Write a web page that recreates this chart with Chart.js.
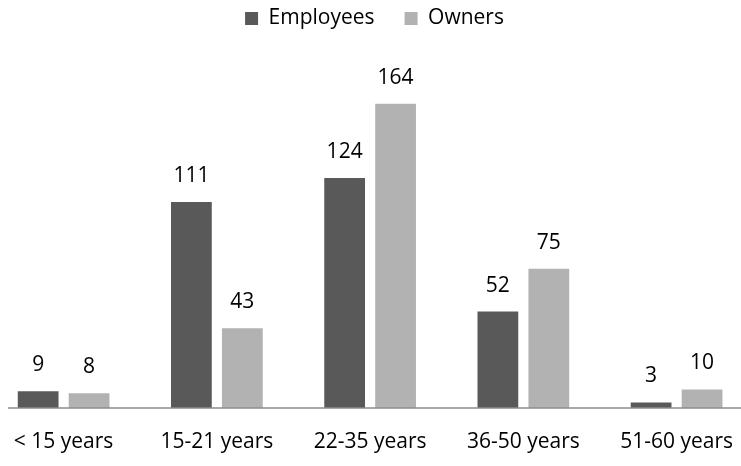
<!DOCTYPE html>
<html><head><meta charset="utf-8">
<script src="https://cdn.jsdelivr.net/npm/chart.js@4/dist/chart.umd.min.js"></script>
<style>
html,body{margin:0;padding:0;background:#fff;overflow:hidden;width:741px;height:466px;}
#wrap{position:absolute;left:-13px;top:0;width:767px;height:466px;}
</style></head>
<body><div id="wrap"><canvas id="c"></canvas></div>
<script>
const categories = ["< 15 years","15-21 years","22-35 years","36-50 years","51-60 years"];
const employees = [9,111,124,52,3];
const owners = [8,43,164,75,10];
const seriesNames = ["Employees","Owners"];

const FONT = "'Open Sans', sans-serif";
const FS = 21;
const valueLabels = {
  id:'valueLabels',
  afterDatasetsDraw(chart){
    const ctx = chart.ctx;
    ctx.save();
    ctx.font = FS + "px " + FONT;
    ctx.fillStyle = "#000";
    ctx.textAlign = "center";
    ctx.textBaseline = "alphabetic";
    chart.data.datasets.forEach((ds,i)=>{
      chart.getDatasetMeta(i).data.forEach((bar,j)=>{
        ctx.fillText(ds.data[j], bar.x, bar.y - 20);
      });
    });
    ctx.restore();
  }
};
const baseline = {
  id:'baseline',
  afterDatasetsDraw(chart){
    const ctx = chart.ctx, a = chart.chartArea;
    const y = chart.scales.y.getPixelForValue(0);
    ctx.save();
    ctx.strokeStyle = "#8c8c8c";
    ctx.lineWidth = 1.5;
    ctx.beginPath();
    ctx.moveTo(a.left + 21, y);
    ctx.lineTo(a.right, y);
    ctx.stroke();
    ctx.restore();
  }
};
const legendBox = {
  id:'legendBox',
  afterInit(chart){
    const lg = chart.legend;
    if(!lg) return;
    const fit = lg.fit, draw = lg.draw;
    lg.fit = function(){ fit.call(this); this.height = 74; };
    lg.draw = function(){
      const ctx = this.ctx; ctx.save(); ctx.translate(4,-22); draw.call(this); ctx.restore();
    };
  }
};

new Chart(document.getElementById('c'), {
  type:'bar',
  data:{
    labels: categories,
    datasets:[
      {label: seriesNames[0], data: employees, backgroundColor:"#595959"},
      {label: seriesNames[1], data: owners, backgroundColor:"#b2b2b2"}
    ]
  },
  options:{
    responsive:true, maintainAspectRatio:false, animation:false,
    layout:{padding:0},
    datasets:{bar:{barPercentage:0.8, categoryPercentage:0.665}},
    plugins:{
      legend:{
        position:'top',
        labels:{font:{family:FONT,size:FS}, color:"#000", boxWidth:13, boxHeight:13, padding:30}
      },
      tooltip:{enabled:false}
    },
    scales:{
      x:{
        grid:{display:false, drawTicks:false},
        border:{display:false},
        ticks:{font:{family:FONT,size:FS}, color:"#000", padding:21, maxRotation:0},
        afterFit(scale){ scale.height = 58; }
      },
      y:{
        display:false, min:0, max:180
      }
    }
  },
  plugins:[valueLabels, baseline, legendBox]
});
</script></body></html>
